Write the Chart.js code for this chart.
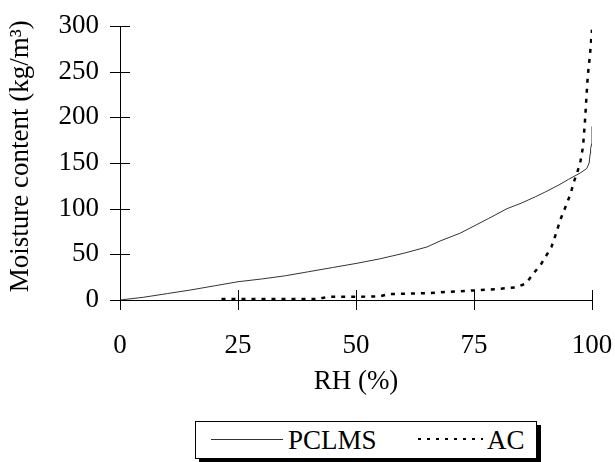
<!DOCTYPE html>
<html>
<head>
<meta charset="utf-8">
<script src="https://cdn.jsdelivr.net/npm/chart.js@4.4.0/dist/chart.umd.min.js"></script>
<style>
  body { margin: 0; background: #fff; }
  #wrap { position: relative; width: 615px; height: 462px; }
  #chart { position: absolute; left: 0; top: 0; }
  .legend {
    position: absolute; left: 195px; top: 421px; width: 340px; height: 36px;
    border: 1px solid #000; box-shadow: 4px 4px 0 #000; background: #fff;
    font-family: 'Liberation Serif', 'Times New Roman', serif; font-size: 27px; color: #000;
  }
  .legend span { position: absolute; top: 0; line-height: 36px; }
  .legend .sample { position: absolute; }
  .solid { left: 15px; width: 72px; top: 17px; height: 1px; background: #333; }
  .dots { left: 222px; width: 65px; top: 16px; height: 2px;
    background: repeating-linear-gradient(90deg, #000 0 3px, transparent 3px 9px); }
</style>
</head>
<body>
<div id="wrap">
  <canvas id="chart" width="615" height="415"></canvas>
  <div class="legend">
    <div class="sample solid"></div><span style="left:92px">PCLMS</span>
    <div class="sample dots"></div><span style="left:291px">AC</span>
  </div>
</div>
<script>
// PCLMS sorption curve (RH %, kg/m3)
const pclmsRH = [0, 5, 10, 15, 20, 25, 30, 35, 40, 45, 50, 55, 60, 65, 68, 72, 75, 78, 82, 85, 88, 90, 93, 95, 97.5, 98.9, 99.4, 99.6, 99.7, 100, 100];
const pclmsMC = [0, 3, 7, 11, 15.5, 20, 23, 26.5, 31, 35.5, 40, 45, 51, 58, 65, 73, 81, 89, 100, 106, 113, 118, 126, 132, 139, 144, 150, 160, 166, 172, 190];

// AC sorption curve
const acRH = [21.5, 30, 40, 42, 44, 50, 55, 57, 65, 70, 75, 80, 84, 86, 87.6, 89.3, 91.4, 92.4, 93.3, 94.4, 95.5, 96.2, 96.9, 97.6, 98.1, 98.5, 98.8, 99.1, 99.6, 100];
const acMC = [1, 1, 1, 1, 3.5, 3.5, 4, 6.5, 7.5, 9, 10.5, 12, 14, 18, 29, 40, 58, 73, 88, 102, 117, 130, 140, 153, 168, 195, 220, 245, 270, 296];

const xTicks = [0, 25, 50, 75, 100];
const yTicks = [0, 50, 100, 150, 200, 250, 300];

const font = { family: "'Liberation Serif', 'Times New Roman', serif", size: 27 };

const toPoints = (xs, ys) => xs.map((x, i) => ({ x: x, y: ys[i] }));

// ticks that cross the axis lines
const crossTicks = {
  id: 'crossTicks',
  afterDraw(chart) {
    const ctx = chart.ctx;
    const xs = chart.scales.x, ys = chart.scales.y;
    const area = chart.chartArea;
    ctx.save();
    ctx.strokeStyle = '#000';
    ctx.lineWidth = 1;
    ctx.beginPath();
    xTicks.forEach(v => {
      const px = Math.round(xs.getPixelForValue(v)) + 0.5;
      ctx.moveTo(px, area.bottom - 10);
      ctx.lineTo(px, area.bottom + 10);
    });
    yTicks.forEach(v => {
      const py = Math.round(ys.getPixelForValue(v)) + 0.5;
      ctx.moveTo(area.left - 10, py);
      ctx.lineTo(area.left + 10, py);
    });
    ctx.stroke();
    ctx.restore();
  }
};

new Chart(document.getElementById('chart'), {
  type: 'line',
  data: {
    datasets: [
      {
        label: 'PCLMS',
        data: toPoints(pclmsRH, pclmsMC),
        borderColor: '#333',
        borderWidth: 1,
        pointRadius: 0,
        tension: 0
      },
      {
        label: 'AC',
        data: toPoints(acRH, acMC),
        borderColor: '#000',
        borderWidth: 2.5,
        borderDash: [4, 6],
        pointRadius: 0,
        tension: 0
      }
    ]
  },
  options: {
    responsive: false,
    animation: false,
    devicePixelRatio: 1,
    layout: { padding: { top: 26, right: 23, left: 0, bottom: 0 } },
    plugins: { legend: { display: false }, tooltip: { enabled: false } },
    scales: {
      x: {
        type: 'linear',
        min: 0, max: 100,
        afterBuildTicks: s => { s.ticks = xTicks.map(v => ({ value: v })); },
        afterFit: s => { s.height = 115; s.paddingLeft = 0; s.paddingRight = 0; },
        ticks: { font: font, color: '#000', padding: 30, maxRotation: 0 },
        grid: { display: false, drawTicks: false },
        border: { color: '#000', width: 1 },
        title: { display: true, text: 'RH (%)', font: font, color: '#000', padding: { top: 0, bottom: 17 } }
      },
      y: {
        min: 0, max: 300,
        afterBuildTicks: s => { s.ticks = yTicks.map(v => ({ value: v })); },
        afterFit: s => { s.width = 120; s.paddingTop = 0; s.paddingBottom = 0; },
        ticks: { font: font, color: '#000', padding: 21 },
        grid: { display: false, drawTicks: false },
        border: { color: '#000', width: 1 },
        // leading en space nudges the rotated title a little upward, as in the original
        title: { display: true, text: '\u2002Moisture content (kg/m³)', font: font, color: '#000', padding: { top: 5, bottom: 0 } }
      }
    }
  },
  plugins: [crossTicks]
});
</script>
</body>
</html>
